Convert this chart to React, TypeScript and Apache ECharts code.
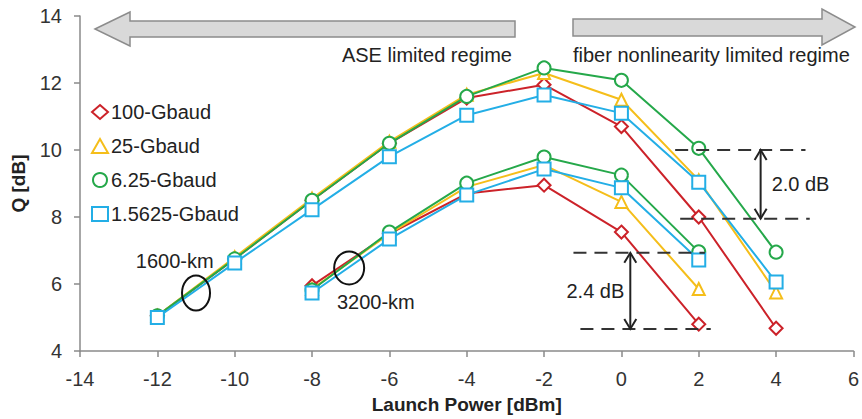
import React, { useEffect, useRef } from "react";
import * as echarts from "echarts";

const xTicks = [-14, -12, -10, -8, -6, -4, -2, 0, 2, 4, 6];
const x1600 = [-12, -10, -8, -6, -4, -2, 0, 2, 4];
const x3200 = [-8, -6, -4, -2, 0, 2];

const names = ["100-Gbaud", "25-Gbaud", "6.25-Gbaud", "1.5625-Gbaud"];
const colors = ["#cc2229", "#f5be1a", "#25a84a", "#23aee6"];
const symbols = ["emptyDiamond", "emptyTriangle", "emptyCircle", "emptyRect"];
const symbolSizes = [13, 12, 13, 13];

const q1600 = [
  [5.05, 6.75, 8.5, 10.2, 11.55, 11.95, 10.7, 8.0, 4.68],
  [5.05, 6.8, 8.55, 10.25, 11.65, 12.3, 11.5, 9.1, 5.75],
  [5.05, 6.75, 8.5, 10.2, 11.6, 12.45, 12.08, 10.05, 6.95],
  [5.0, 6.63, 8.22, 9.8, 11.04, 11.64, 11.1, 9.04, 6.06],
];
const q3200 = [
  [5.95, 7.5, 8.7, 8.95, 7.55, 4.8],
  [5.85, 7.5, 8.9, 9.55, 8.45, 5.85],
  [5.82, 7.55, 9.01, 9.79, 9.25, 6.96],
  [5.73, 7.34, 8.66, 9.43, 8.87, 6.72],
];

// annotations in data coordinates
const dashLines = [
  { x1: 1.39, x2: 4.76, y: 10.0 },
  { x1: 1.52, x2: 4.87, y: 7.95 },
  { x1: -1.24, x2: 2.16, y: 6.93 },
  { x1: -1.06, x2: 2.31, y: 4.66 },
];
const gapArrows = [
  { x: 3.6, y1: 10.0, y2: 7.95, label: "2.0 dB", side: "right" },
  { x: 0.23, y1: 6.93, y2: 4.66, label: "2.4 dB", side: "left" },
];
const ellipses = [
  { x: -11.0, y: 5.73, w: 28, h: 35, label: "1600-km", lx: -11.55, ly: 6.7 },
  { x: -7.04, y: 6.48, w: 30, h: 33, label: "3200-km", lx: -6.35, ly: 5.45 },
];

const FONT = "'Liberation Sans', Arial, sans-serif";

export default function App() {
  const ref = useRef<HTMLDivElement>(null);
  useEffect(() => {
    if (!ref.current) return;
    const chart = echarts.init(ref.current, null, { renderer: "svg" });
    const series: any[] = [];
    [q1600, q3200].forEach((group, gi) => {
      const xs = gi === 0 ? x1600 : x3200;
      group.forEach((vals, i) => {
        series.push({
          type: "line",
          name: names[i],
          data: xs.map((x, k) => [x, vals[k]]),
          symbol: symbols[i],
          symbolSize: symbolSizes[i],
          lineStyle: { color: colors[i], width: 2 },
          itemStyle: { color: colors[i], borderWidth: 2 },
          z: 2 + i,
        });
      });
    });
    chart.setOption({
      animation: false,
      textStyle: { fontFamily: FONT },
      grid: { left: 80, right: 6, top: 16, bottom: 68 },
      legend: {
        orient: "vertical",
        left: 86,
        top: 97,
        itemGap: 14,
        itemWidth: 16,
        itemHeight: 14,
        textStyle: { fontSize: 20, color: "#222", fontFamily: FONT, padding: [0, 0, 0, -2] },
        data: names.map((n, i) => ({ name: n, icon: symbols[i] })),
        itemStyle: { borderWidth: 2 },
      },
      xAxis: {
        type: "value",
        min: -14,
        max: 6,
        interval: 2,
        name: "Launch Power [dBm]",
        nameLocation: "middle",
        nameGap: 44,
        nameTextStyle: { fontSize: 19, fontWeight: "bold", color: "#222" },
        axisLine: { onZero: false, lineStyle: { color: "#8a8a8a", width: 1.5 } },
        axisTick: { show: true, length: 6, lineStyle: { color: "#8a8a8a", width: 1.5 } },
        axisLabel: { fontSize: 20, color: "#333", margin: 18 },
        splitLine: { show: false },
      },
      yAxis: {
        type: "value",
        min: 4,
        max: 14,
        interval: 2,
        name: "Q [dB]",
        nameLocation: "middle",
        nameRotate: 90,
        nameGap: 52,
        nameTextStyle: { fontSize: 19, fontWeight: "bold", color: "#222" },
        axisLine: { show: true, onZero: false, lineStyle: { color: "#8a8a8a", width: 1.5 } },
        axisTick: { show: true, length: 6, lineStyle: { color: "#8a8a8a", width: 1.5 } },
        axisLabel: { fontSize: 20, color: "#333", margin: 18 },
        splitLine: { show: false },
      },
      series,
    });

    const px = (x: number, y: number) => chart.convertToPixel({ gridIndex: 0 }, [x, y]) as number[];
    const graphics: any[] = [];
    // big regime arrows
    graphics.push({
      type: "polygon",
      shape: { points: [[95, 29], [130, 12], [130, 21], [515, 21], [515, 37], [130, 37], [130, 46]] },
      style: { fill: "#d9d9d9", stroke: "#8c8c8c", lineWidth: 1.5 },
    });
    graphics.push({
      type: "polygon",
      shape: { points: [[573, 19], [822, 19], [822, 9], [855, 27], [822, 45], [822, 36], [573, 36]] },
      style: { fill: "#d9d9d9", stroke: "#8c8c8c", lineWidth: 1.5 },
    });
    graphics.push({
      type: "text",
      x: 512,
      y: 55,
      style: { text: "ASE limited regime", fontSize: 20, fontFamily: FONT, fill: "#222", align: "right", verticalAlign: "middle" },
    });
    graphics.push({
      type: "text",
      x: 573,
      y: 55,
      style: { text: "fiber nonlinearity limited regime", fontSize: 20, fontFamily: FONT, fill: "#222", align: "left", verticalAlign: "middle" },
    });
    dashLines.forEach((d) => {
      const a = px(d.x1, d.y);
      const b = px(d.x2, d.y);
      graphics.push({
        type: "line",
        shape: { x1: a[0], y1: a[1], x2: b[0], y2: b[1] },
        style: { stroke: "#333", lineWidth: 2, lineDash: [13, 8] },
        z: 10,
      });
    });
    gapArrows.forEach((g) => {
      const a = px(g.x, g.y1);
      const b = px(g.x, g.y2);
      const hw = 6, hh = 10;
      graphics.push({
        type: "line",
        shape: { x1: a[0], y1: a[1], x2: b[0], y2: b[1] },
        style: { stroke: "#222", lineWidth: 2 },
        z: 10,
      });
      graphics.push({
        type: "polyline",
        shape: { points: [[a[0] - hw, a[1] + hh], [a[0], a[1]], [a[0] + hw, a[1] + hh]] },
        style: { stroke: "#222", lineWidth: 2, fill: "none" },
        z: 10,
      });
      graphics.push({
        type: "polyline",
        shape: { points: [[b[0] - hw, b[1] - hh], [b[0], b[1]], [b[0] + hw, b[1] - hh]] },
        style: { stroke: "#222", lineWidth: 2, fill: "none" },
        z: 10,
      });
      const my = (a[1] + b[1]) / 2;
      graphics.push({
        type: "text",
        x: g.side === "right" ? a[0] + 11 : a[0] - 6,
        y: my,
        style: {
          text: g.label,
          fontSize: 20,
          fontFamily: FONT,
          fill: "#222",
          align: g.side === "right" ? "left" : "right",
          verticalAlign: "middle",
        },
        z: 10,
      });
    });
    ellipses.forEach((e) => {
      const c = px(e.x, e.y);
      graphics.push({
        type: "ellipse",
        shape: { cx: c[0], cy: c[1], rx: e.w / 2, ry: e.h / 2 },
        style: { fill: "none", stroke: "#111", lineWidth: 2 },
        z: 10,
      });
      const l = px(e.lx, e.ly);
      graphics.push({
        type: "text",
        x: l[0],
        y: l[1],
        style: { text: e.label, fontSize: 20, fontFamily: FONT, fill: "#222", align: "center", verticalAlign: "middle" },
        z: 10,
      });
    });
    chart.setOption({ graphic: graphics });
    return () => chart.dispose();
  }, []);
  return <div ref={ref} style={{ width: 862, height: 419, position: "absolute", left: 0, top: 0 }} />;
}
